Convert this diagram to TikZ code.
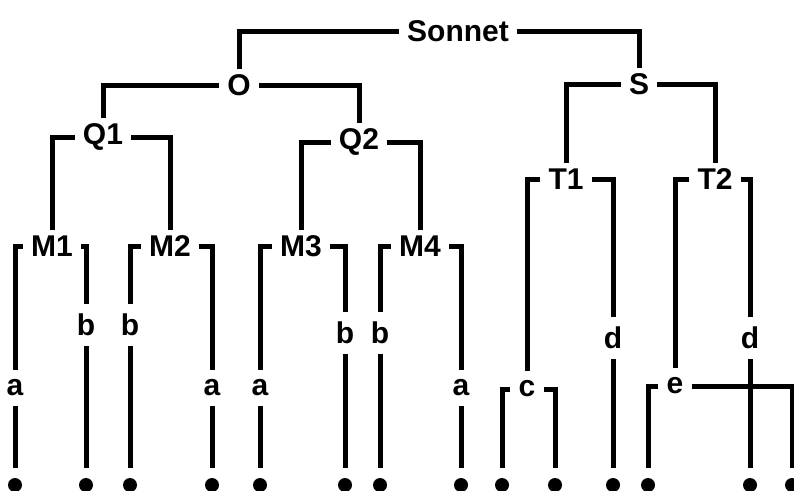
\documentclass[tikz,border=0pt]{standalone}
\usepackage{fontspec}
\setmainfont{Liberation Sans}
\usepackage{tikz}
\tikzset{
  catnode/.style={inner xsep=8pt, inner ysep=5pt, font=\fontsize{30}{35}\selectfont\bfseries},
  leafnode/.style={inner xsep=8pt, inner ysep=10pt, font=\fontsize{30}{35}\selectfont\bfseries},
  enddot/.style={circle, fill, inner sep=0pt, minimum size=14pt, outer sep=10pt},
  brk/.style={line width=5pt},
}

\begin{document}
\begin{tikzpicture}[x=1pt, y=-1pt]
  \useasboundingbox (0,0) rectangle (794,490);
  % Nodes
  \node[catnode] (sonnet) at (458,31) {Sonnet};
  \node[catnode] (O) at (239,85) {O};
  \node[catnode] (S) at (639,84) {S};
  \node[catnode] (Q1) at (103,137) {Q1};
  \node[catnode] (Q2) at (359,142) {Q2};
  \node[catnode] (T1) at (566,179) {T1};
  \node[catnode] (T2) at (715,179) {T2};
  \node[catnode] (M1) at (52,246) {M1};
  \node[catnode] (M2) at (170,246) {M2};
  \node[catnode] (M3) at (301,246) {M3};
  \node[catnode] (M4) at (420,246) {M4};

  % Leaves
  \node[leafnode] (a1) at (15,388) {a};
  \node[leafnode] (b1) at (86,325) {b};
  \node[leafnode] (b2) at (130,325) {b};
  \node[leafnode] (a2) at (212,388) {a};
  \node[leafnode] (a3) at (260,388) {a};
  \node[leafnode] (b3) at (345,333) {b};
  \node[leafnode] (b4) at (380,333) {b};
  \node[leafnode] (a4) at (461,388) {a};
  \node[leafnode] (c) at (527,389) {c};
  \node[leafnode] (d1) at (613,338) {d};
  \node[leafnode] (e) at (675,386) {e};
  \node[leafnode] (d2) at (750,338) {d};

  % Dots
  \node[enddot] (p1) at (15,485) {};
  \node[enddot] (p2) at (86,485) {};
  \node[enddot] (p3) at (130,485) {};
  \node[enddot] (p4) at (212,485) {};
  \node[enddot] (p5) at (260,485) {};
  \node[enddot] (p6) at (345,485) {};
  \node[enddot] (p7) at (380,485) {};
  \node[enddot] (p8) at (461,485) {};
  \node[enddot] (p9) at (502,485) {};
  \node[enddot] (p10) at (555,485) {};
  \node[enddot] (p11) at (613,485) {};
  \node[enddot] (p12) at (648,485) {};
  \node[enddot] (p13) at (750,485) {};
  \node[enddot] (p14) at (792,485) {};

  % Brackets
  \draw[brk] (sonnet.west) -| (O.north);
  \draw[brk] (sonnet.east) -| (S.north);
  \draw[brk] (O.west) -| (Q1.north);
  \draw[brk] (O.east) -| (Q2.north);
  \draw[brk] (S.west) -| (T1.north);
  \draw[brk] (S.east) -| (T2.north);
  \draw[brk] (Q1.west) -| (M1.north);
  \draw[brk] (Q1.east) -| (M2.north);
  \draw[brk] (Q2.west) -| (M3.north);
  \draw[brk] (Q2.east) -| (M4.north);
  \draw[brk] (M1.west) -| (a1.north);
  \draw[brk] (M1.east) -| (b1.north);
  \draw[brk] (M2.west) -| (b2.north);
  \draw[brk] (M2.east) -| (a2.north);
  \draw[brk] (M3.west) -| (a3.north);
  \draw[brk] (M3.east) -| (b3.north);
  \draw[brk] (M4.west) -| (b4.north);
  \draw[brk] (M4.east) -| (a4.north);
  \draw[brk] (T1.west) -| (c.north);
  \draw[brk] (T1.east) -| (d1.north);
  \draw[brk] (T2.west) -| (e.north);
  \draw[brk] (T2.east) -| (d2.north);
  \draw[brk] (c.west) -| (p9.north);
  \draw[brk] (c.east) -| (p10.north);
  \draw[brk] (e.west) -| (p12.north);
  \draw[brk] (e.east) -| (p14.north);

  % Leaf stems
  \draw[brk] (a1.south) -- (p1.north);
  \draw[brk] (b1.south) -- (p2.north);
  \draw[brk] (b2.south) -- (p3.north);
  \draw[brk] (a2.south) -- (p4.north);
  \draw[brk] (a3.south) -- (p5.north);
  \draw[brk] (b3.south) -- (p6.north);
  \draw[brk] (b4.south) -- (p7.north);
  \draw[brk] (a4.south) -- (p8.north);
  \draw[brk] (d1.south) -- (p11.north);
  \draw[brk] (d2.south) -- (p13.north);
\end{tikzpicture}
\end{document}
